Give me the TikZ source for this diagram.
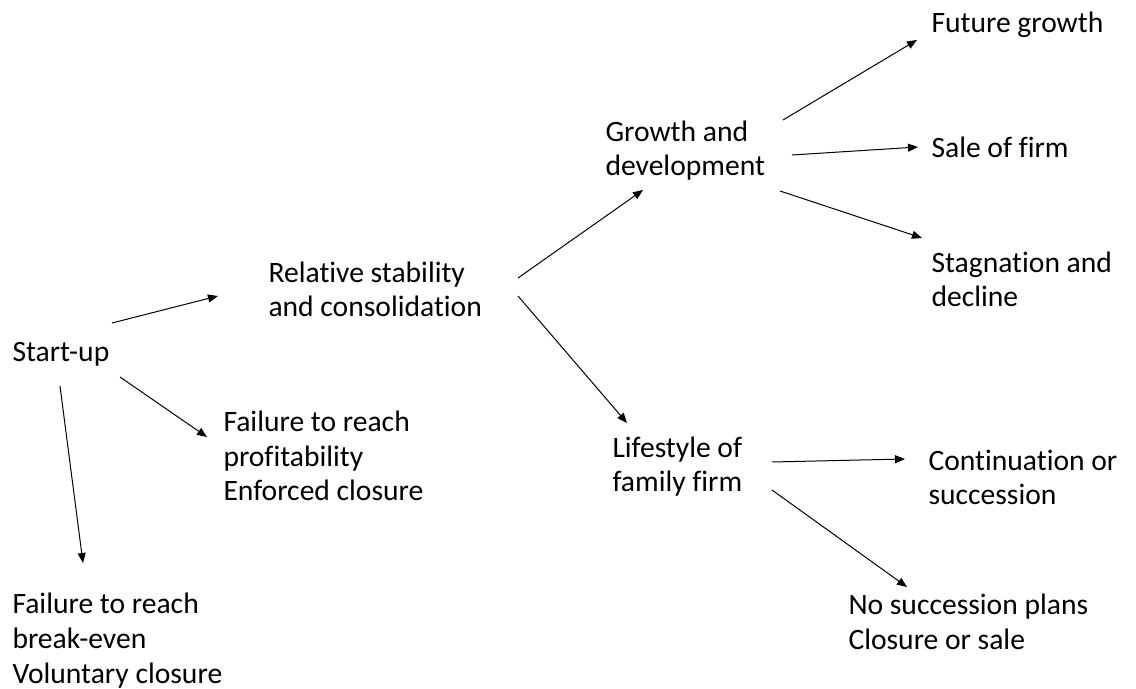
\documentclass[tikz,border=0pt]{standalone}
\usepackage{fontspec}
\setmainfont{Carlito}[Ligatures=NoCommon]
\usetikzlibrary{arrows.meta,calc}

\begin{document}
\begin{tikzpicture}[x=0.5pt, y=-0.5pt, font=\fontsize{14.8}{17.3}\selectfont, line width=0.5pt, main/.style = {anchor=base west, align=left, inner sep=0pt}, arr/.style = {-{Triangle[length=5pt, width=4pt]}}]
                \useasboundingbox (0,0) rectangle (1136,689);
                \node[main] (s0) at (12,362) {Start-up};
                \node[main] (m0) at (268,317) {Relative stability\\and consolidation};
                \node[main] (f0) at (223,501) {Failure to reach\\profitability\\Enforced closure};
                \node[main] (f1) at (12,683) {Failure to reach\\break-even\\Voluntary closure};
                \node[main] (g0) at (605,176) {Growth and\\development};
                \node[main] (l0) at (612,492) {Lifestyle of\\family firm};
                \node[main] (o0) at (931,33) {Future growth};
                \node[main] (o1) at (931,158) {Sale of firm};
                \node[main] (o2) at (931,307) {Stagnation and\\decline};
                \node[main] (o3) at (928,505) {Continuation or\\succession};
                \node[main] (o4) at (848,649) {No succession plans\\Closure or sale};
                \draw[arr] ($(s0.base west)+(100,-39)$) -- ($(m0.base west)+(-50,-21)$);
                \draw[arr] ($(s0.base west)+(108,15)$) -- ($(f0.base west)+(-16,-64)$);
                \draw[arr] ($(s0.base west)+(48,24)$) -- ($(f1.base west)+(71,-120)$);
                \draw[arr] ($(m0.base west)+(250,-39)$) -- ($(g0.base west)+(38,14)$);
                \draw[arr] ($(m0.base west)+(250,-21)$) -- ($(l0.base west)+(15,-69)$);
                \draw[arr] ($(g0.base west)+(178,-56)$) -- ($(o0.base west)+(-14,7)$);
                \draw[arr] ($(g0.base west)+(187,-21)$) -- ($(o1.base west)+(-13,-11)$);
                \draw[arr] ($(g0.base west)+(175,15)$) -- ($(o2.base west)+(-9,-69)$);
                \draw[arr] ($(l0.base west)+(160,-30)$) -- ($(o3.base west)+(-23,-46)$);
                \draw[arr] ($(l0.base west)+(160,-2)$) -- ($(o4.base west)+(59,-62)$);
            \end{tikzpicture}
\end{document}
